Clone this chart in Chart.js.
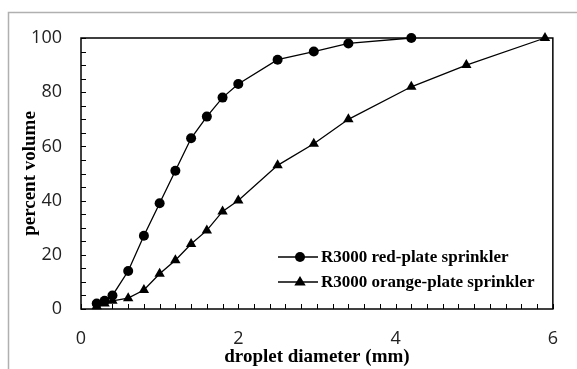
<!DOCTYPE html>
<html>
<head>
<meta charset="utf-8">
<script src="https://cdn.jsdelivr.net/npm/chart.js@4/dist/chart.umd.min.js"></script>
<style>
html,body{margin:0;padding:0;background:#fff;}
#wrap{width:577px;height:369px;}
</style>
</head>
<body>
<div id="wrap"><canvas id="c" width="577" height="369"></canvas></div>
<script>
const redLabel = "R3000 red-plate sprinkler";
const orangeLabel = "R3000 orange-plate sprinkler";
const redX = [0.2,0.3,0.4,0.6,0.8,1.0,1.2,1.4,1.6,1.8,2.0,2.5,2.96,3.4,4.2];
const redY = [2,3,5,14,27,39,51,63,71,78,83,92,95,98,100];
const orangeX = [0.2,0.3,0.4,0.6,0.8,1.0,1.2,1.4,1.6,1.8,2.0,2.5,2.96,3.4,4.2,4.9,5.9];
const orangeY = [1,2,3,4,7,13,18,24,29,36,40,53,61,70,82,90,100];
const xTicks = [0,2,4,6];
const yTicks = [0,20,40,60,80,100];
const xTitle = "droplet diameter (mm)";
const yTitle = "percent volume";

const toPts = (xs, ys) => xs.map((x, i) => ({x: x, y: ys[i]}));

const framePlugin = {
  id: 'frame',
  afterDraw(chart) {
    const ctx = chart.ctx;
    const a = chart.chartArea;
    const xs = chart.scales.x, ys = chart.scales.y;
    ctx.save();
    ctx.strokeStyle = '#b0b0b0';
    ctx.lineWidth = 1.5;
    ctx.beginPath();
    ctx.moveTo(8.5, 369);
    ctx.lineTo(8.5, 12.5);
    ctx.lineTo(577, 12.5);
    ctx.stroke();

    ctx.strokeStyle = '#000';
    ctx.lineWidth = 1.5;
    ctx.strokeRect(a.left, a.top, a.right - a.left, a.bottom - a.top);
    ctx.lineWidth = 1;
    ctx.beginPath();
    for (let i = 0; i <= 30; i++) {
      const px = Math.round(xs.getPixelForValue(i * 0.2)) + 0.5;
      ctx.moveTo(px, a.bottom);
      ctx.lineTo(px, a.bottom - 5);
    }
    for (let i = 0; i <= 20; i++) {
      const py = Math.round(ys.getPixelForValue(i * 5)) + 0.5;
      ctx.moveTo(a.left, py);
      ctx.lineTo(a.left + 5, py);
    }
    ctx.stroke();
    // legend
    const rows = [[chart.data.datasets[0], 257], [chart.data.datasets[1], 282]];
    ctx.font = 'bold 17px "Liberation Serif", "Times New Roman", serif';
    ctx.textBaseline = 'middle';
    ctx.fillStyle = '#000';
    rows.forEach(([ds, y]) => {
      ctx.lineWidth = 1.3;
      ctx.beginPath();
      ctx.moveTo(278, y);
      ctx.lineTo(318, y);
      ctx.stroke();
      ctx.beginPath();
      if (ds.pointStyle === 'triangle') {
        const r = 6;
        ctx.moveTo(300, y - r);
        ctx.lineTo(300 + r * 0.95, y + r * 0.6);
        ctx.lineTo(300 - r * 0.95, y + r * 0.6);
        ctx.closePath();
      } else {
        ctx.arc(300, y, 5, 0, Math.PI * 2);
      }
      ctx.fill();
      ctx.fillText(ds.label, 321, y + 1);
    });
    ctx.restore();
  }
};

new Chart(document.getElementById('c'), {
  type: 'scatter',
  data: {
    datasets: [
      {label: redLabel, data: toPts(redX, redY), showLine: true, borderColor: '#000', borderWidth: 1.3,
       backgroundColor: '#000', pointStyle: 'circle', pointRadius: 5, pointBorderWidth: 0, clip: false},
      {label: orangeLabel, data: toPts(orangeX, orangeY), showLine: true, borderColor: '#000', borderWidth: 1.3,
       backgroundColor: '#000', pointStyle: 'triangle', pointRadius: 6, pointBorderWidth: 0, clip: false}
    ]
  },
  options: {
    responsive: false,
    animation: false,
    devicePixelRatio: 1,
    layout: {padding: {top: 38, right: 18, left: 19, bottom: 1}},
    plugins: {legend: {display: false}, tooltip: {enabled: false}},
    scales: {
      x: {
        type: 'linear', min: 0, max: 6,
        afterBuildTicks: s => { s.ticks = xTicks.map(v => ({value: v})); },
        afterFit: s => { s.height = 59; },
        grid: {display: false, drawTicks: false},
        border: {display: false},
        ticks: {padding: 19, color: '#222', font: {family: '"Open Sans", sans-serif', size: 18}, maxRotation: 0},
        title: {display: true, text: xTitle, color: '#000', padding: {top: 0, bottom: 0},
                font: {family: '"Liberation Serif", serif', size: 19, weight: 'bold'}}
      },
      y: {
        type: 'linear', min: 0, max: 100,
        afterBuildTicks: s => { s.ticks = yTicks.map(v => ({value: v})); },
        afterFit: s => { s.width = 62; },
        grid: {display: false, drawTicks: false},
        border: {display: false},
        ticks: {padding: 19, color: '#222', font: {family: '"Open Sans", sans-serif', size: 18}},
        title: {display: true, text: yTitle, color: '#000', padding: {top: 0, bottom: 0},
                font: {family: '"Liberation Serif", serif', size: 19, weight: 'bold'}}
      }
    }
  },
  plugins: [framePlugin]
});
</script>
</body>
</html>
